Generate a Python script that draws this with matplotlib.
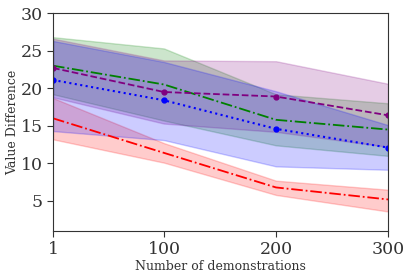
import matplotlib
matplotlib.use("Agg")
import matplotlib.pyplot as plt

plt.rcParams['font.family'] = ['DejaVu Serif']

# x values (number of demonstrations)
demos = [1, 100, 200, 300]
xtick_labels = ['1', '100', '200', '300']

# series: mean and band limits
red_mean = [16.0, 11.4, 6.8, 5.2]
red_low = [13.2, 10.1, 5.8, 3.6]
red_high = [18.7, 12.7, 7.7, 6.5]

green_mean = [23.0, 20.5, 15.8, 14.5]
green_low = [19.2, 15.7, 12.4, 11.0]
green_high = [26.8, 25.3, 19.2, 18.0]

purple_mean = [22.7, 19.5, 18.9, 16.4]
purple_low = [18.8, 15.3, 14.2, 12.2]
purple_high = [26.6, 23.7, 23.6, 20.6]

blue_mean = [21.1, 18.4, 14.6, 12.1]
blue_low = [14.3, 13.1, 9.6, 9.15]
blue_high = [26.3, 23.5, 19.6, 15.1]

fig, ax = plt.subplots(figsize=(4.08, 2.79), dpi=100)
fig.subplots_adjust(left=0.130, right=0.951, top=0.953, bottom=0.172)

ax.plot(demos, red_mean, color='red', linestyle='-.', linewidth=1.3)
ax.fill_between(demos, red_low, red_high, color='red', alpha=0.2)

ax.plot(demos, green_mean, color='green', linestyle='-.', linewidth=1.3)
ax.fill_between(demos, green_low, green_high, color='green', alpha=0.2)

ax.plot(demos, purple_mean, color='purple', linestyle='--', linewidth=1.3,
        marker='o', markersize=3.5)
ax.fill_between(demos, purple_low, purple_high, color='purple', alpha=0.2)

ax.plot(demos, blue_mean, color='blue', linestyle=':', linewidth=1.5,
        marker='o', markersize=3.5)
ax.fill_between(demos, blue_low, blue_high, color='blue', alpha=0.2)

ax.set_xlim(1, 300)
ax.set_ylim(1, 30)
ax.set_xticks(demos)
ax.set_xticklabels(xtick_labels)
ax.set_yticks([5, 10, 15, 20, 25, 30])

ax.tick_params(labelsize=12.5, colors='#333333', length=4)
for sp in ax.spines.values():
    sp.set_color('#333333')

ax.set_xlabel('Number of demonstrations', fontsize=9, color='#333333', labelpad=1)
ax.set_ylabel('Value Difference', fontsize=9, color='#333333', labelpad=1)

fig.savefig('out.png', dpi=100)
